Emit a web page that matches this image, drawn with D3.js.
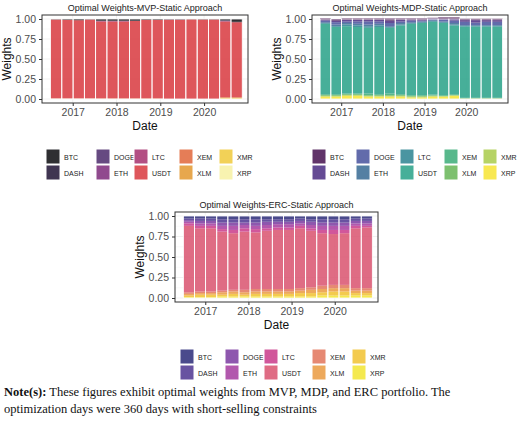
<!DOCTYPE html>
<html><head><meta charset="utf-8">
<script src="https://cdn.jsdelivr.net/npm/d3@7"></script>
<style>body{margin:0;background:#fff}text{font-family:"Liberation Sans",Arial,sans-serif}</style>
</head><body>
<svg id="c" width="520" height="422"></svg>
<script>
const assets = ['BTC','DASH','DOGE','ETH','LTC','USDT','XEM','XLM','XMR','XRP'];
const dates = ['2016-08-16','2016-11-18','2017-02-20','2017-05-25','2017-08-27','2017-11-29','2018-03-03','2018-06-05','2018-09-07','2018-12-10','2019-03-14','2019-06-16','2019-09-18','2019-12-21','2020-03-24','2020-06-26','2020-09-28'];
const yearTicks = ['2017-01-01','2018-01-01','2019-01-01','2020-01-01'];
const yTicks = [0, 0.25, 0.5, 0.75, 1];

const mvp = {
  BTC:  [0.005,0.01,0.015,0.005,0.02,0.02,0.02,0.02,0.01,0.01,0.005,0.005,0.003,0.005,0.005,0.015,0.035],
  DASH: [0,0,0,0,0.005,0.005,0.005,0.005,0,0,0,0,0,0,0,0.005,0.005],
  DOGE: [0,0,0,0,0,0,0,0,0,0,0.003,0.003,0,0,0,0.005,0],
  ETH:  [0,0,0,0,0.005,0.005,0.005,0,0,0,0,0,0,0,0,0.005,0],
  LTC:  [0,0,0,0,0,0,0,0,0,0,0,0,0,0,0,0,0],
  USDT: [0.99,0.985,0.98,0.99,0.965,0.965,0.965,0.97,0.985,0.985,0.992,0.992,0.997,0.995,0.995,0.95,0.94],
  XEM:  [0,0,0,0,0,0,0,0,0,0,0,0,0,0,0,0,0],
  XLM:  [0,0,0,0,0.005,0.005,0.005,0.005,0.005,0.005,0,0,0,0,0,0.01,0.01],
  XMR:  [0,0,0,0,0,0,0,0,0,0,0,0,0,0,0,0.01,0.01],
  XRP:  [0.005,0.005,0.005,0.005,0,0,0,0,0,0,0,0,0,0,0,0,0]
};
const mdp = {
  BTC:  [0.02,0.02,0.02,0.02,0.02,0.02,0.03,0.02,0.02,0.02,0.01,0.02,0.02,0.02,0.02,0.02,0.02],
  DASH: [0.01,0.02,0.02,0.02,0.02,0.02,0.03,0.02,0.01,0.01,0.01,0.01,0.02,0.02,0.03,0.02,0.02],
  DOGE: [0.02,0.03,0.02,0.03,0.04,0.03,0.04,0.02,0.02,0.01,0.01,0.02,0.03,0.04,0.03,0.04,0.04],
  ETH:  [0.01,0.02,0.02,0.02,0.02,0.02,0.01,0.02,0.01,0.01,0.01,0.01,0.02,0.01,0.01,0.01,0.01],
  LTC:  [0.01,0.01,0.02,0.02,0.02,0.02,0.01,0.01,0.01,0.01,0.01,0.01,0.01,0.01,0.01,0.01,0.01],
  USDT: [0.88,0.84,0.84,0.83,0.82,0.84,0.82,0.86,0.89,0.90,0.91,0.90,0.86,0.89,0.89,0.89,0.89],
  XEM:  [0.01,0.01,0.01,0.01,0.02,0.01,0.02,0.01,0.01,0.01,0.01,0.01,0.01,0.005,0.005,0.005,0.005],
  XLM:  [0.01,0.01,0.01,0.01,0.01,0.01,0.01,0.01,0.01,0.01,0.005,0.005,0.005,0.005,0.005,0.005,0.005],
  XMR:  [0.01,0.01,0.01,0.01,0.01,0.01,0.01,0.01,0.01,0.01,0.01,0.005,0.005,0.005,0.005,0.005,0.005],
  XRP:  [0.03,0.03,0.04,0.04,0.03,0.03,0.03,0.03,0.02,0.02,0.03,0.03,0.04,0,0,0,0]
};
const erc = {
  BTC:  [0.03,0.03,0.03,0.04,0.04,0.04,0.04,0.04,0.04,0.04,0.03,0.04,0.04,0.04,0.04,0.03,0.03],
  DASH: [0.02,0.03,0.03,0.04,0.04,0.04,0.04,0.03,0.03,0.03,0.03,0.03,0.04,0.04,0.04,0.03,0.03],
  DOGE: [0.02,0.03,0.03,0.04,0.04,0.03,0.04,0.04,0.03,0.03,0.03,0.04,0.04,0.04,0.04,0.03,0.03],
  ETH:  [0.02,0.03,0.03,0.04,0.05,0.04,0.04,0.04,0.04,0.04,0.03,0.04,0.05,0.05,0.05,0.03,0.03],
  LTC:  [0.03,0.03,0.03,0.03,0.04,0.04,0.04,0.03,0.03,0.03,0.03,0.03,0.04,0.05,0.04,0.03,0.02],
  USDT: [0.81,0.77,0.77,0.72,0.69,0.71,0.69,0.71,0.72,0.72,0.73,0.69,0.64,0.62,0.63,0.73,0.74],
  XEM:  [0.02,0.02,0.02,0.02,0.02,0.03,0.03,0.03,0.03,0.03,0.03,0.03,0.04,0.04,0.04,0.03,0.03],
  XLM:  [0.02,0.02,0.02,0.03,0.03,0.03,0.03,0.03,0.03,0.03,0.03,0.04,0.04,0.04,0.04,0.03,0.03],
  XMR:  [0.02,0.03,0.03,0.02,0.03,0.02,0.03,0.03,0.03,0.03,0.04,0.04,0.04,0.05,0.05,0.03,0.03],
  XRP:  [0.01,0.01,0.01,0.02,0.02,0.02,0.02,0.02,0.02,0.02,0.02,0.02,0.03,0.03,0.03,0.03,0.03]
};
const infernoCols = ['#0b0b0e','#1e1233','#4b2a6b','#7d2a7a','#a6306d','#d8383e','#e0663a','#e3982e','#f0c93a','#f7f1a2'];
const viridisCols = ['#45114f','#4a2b81','#46519c','#376a93','#2a8390','#27a187','#3bab78','#66b556','#a9cb4a','#f7e433'];
const plasmaCols  = ['#2a2a78','#4d3590','#7a3aa0','#a43b9f','#c9398a','#d9526e','#e2745a','#ea9a40','#f1c230','#f2e530'];

const svg = d3.select('#c');
const parse = d3.utcParse('%Y-%m-%d');

function drawPanel(o) {
  const g = svg.append('g').attr('transform', `translate(${o.x},${o.y})`);
  const w = o.w, h = o.h;
  const x = d3.scaleUtc().domain([parse('2016-04-20'), parse('2021-01-01')]).range([0, w]);
  const y = d3.scaleLinear().domain([0, 1]).range([h - 4, 4]);
  const color = d3.scaleOrdinal().domain(assets).range(o.colors);

  g.append('rect').attr('width', w).attr('height', h).attr('fill', '#fff');
  const minor = [0.125, 0.375, 0.625, 0.875];
  g.selectAll('.gm').data(minor).join('line').attr('x1', 0).attr('x2', w)
    .attr('y1', d => y(d)).attr('y2', d => y(d)).attr('stroke', '#f2f2f2').attr('stroke-width', 0.5);
  g.selectAll('.gy').data(yTicks).join('line').attr('x1', 0).attr('x2', w)
    .attr('y1', d => y(d)).attr('y2', d => y(d)).attr('stroke', '#ebebeb').attr('stroke-width', 0.7);
  g.selectAll('.gx').data(yearTicks).join('line').attr('y1', 0).attr('y2', h)
    .attr('x1', d => x(parse(d))).attr('x2', d => x(parse(d))).attr('stroke', '#ebebeb').attr('stroke-width', 0.7);

  const rows = dates.map((d, i) => {
    const r = { date: parse(d) };
    assets.forEach(a => r[a] = o.data[a][i]);
    return r;
  });
  const stack = d3.stack().keys(assets.slice().reverse())(rows);
  const bw = x(d3.utcDay.offset(parse('2017-01-01'), 94)) - x(parse('2017-01-01'));
  g.selectAll('.s').data(stack).join('g').attr('fill', d => color(d.key)).attr('fill-opacity', 0.85)
    .selectAll('rect').data(d => d).join('rect')
    .attr('x', d => x(d.data.date) - bw / 2).attr('width', bw)
    .attr('y', d => y(d[1])).attr('height', d => Math.max(0, y(d[0]) - y(d[1])));
  g.selectAll('.ol').data(rows).join('rect')
    .attr('x', d => x(d.date) - bw / 2).attr('width', bw)
    .attr('y', y(1)).attr('height', y(0) - y(1))
    .attr('fill', 'none').attr('stroke', '#fff').attr('stroke-width', 0.8);

  g.append('rect').attr('width', w).attr('height', h).attr('fill', 'none').attr('stroke', '#333').attr('stroke-width', 1);

  const ya = g.append('g').call(d3.axisLeft(y).tickValues(yTicks).tickFormat(d3.format('.2f')).tickSize(3));
  const xa = g.append('g').attr('transform', `translate(0,${h})`)
    .call(d3.axisBottom(x).tickValues(yearTicks.map(parse)).tickFormat(d3.utcFormat('%Y')).tickSize(3));
  [ya, xa].forEach(a => {
    a.select('.domain').remove();
    a.selectAll('line').attr('stroke', '#333');
    a.selectAll('text').attr('fill', '#4d4d4d').style('font-size', '10.5px');
  });
  g.append('text').attr('x', w / 2).attr('y', -4).attr('text-anchor', 'middle')
    .style('font-size', '9px').attr('fill', '#222').text(o.title);
  g.append('text').attr('x', w / 2).attr('y', h + 27).attr('text-anchor', 'middle')
    .style('font-size', '12px').attr('fill', '#111').text('Date');
  g.append('text').attr('transform', `translate(-31,${h / 2}) rotate(-90)`).attr('text-anchor', 'middle')
    .style('font-size', '12px').attr('fill', '#111').text('Weights');

  const lg = svg.append('g').attr('transform', `translate(${o.lx},${o.ly})`);
  assets.forEach((a, i) => {
    const col = Math.floor(i / 2), row = i % 2;
    const it = lg.append('g').attr('transform', `translate(${o.lcols[col]},${row * 16})`);
    it.append('rect').attr('width', 14).attr('height', 15).attr('fill', color(a)).attr('fill-opacity', 0.85)
      .attr('stroke', '#fff');
    it.append('text').attr('x', 18).attr('y', 11).style('font-size', '7px').attr('fill', '#222').text(a);
  });
}

drawPanel({ x: 42, y: 15, w: 206, h: 88, title: 'Optimal Weights-MVP-Static Approach', data: mvp,
  colors: infernoCols, lx: 46, ly: 149, lcols: [0, 50, 88, 133, 173] });
drawPanel({ x: 312, y: 15, w: 196, h: 88, title: 'Optimal Weights-MDP-Static Approach', data: mdp,
  colors: viridisCols, lx: 312, ly: 149, lcols: [0, 44, 88, 132, 171] });
drawPanel({ x: 175, y: 212, w: 203, h: 90, title: 'Optimal Weights-ERC-Static Approach', data: erc,
  colors: plasmaCols, lx: 180, ly: 349, lcols: [0, 45, 84, 132, 172] });

const serif = '"Liberation Serif","Times New Roman",serif';
const note = svg.append('text').attr('x', 4).attr('y', 396).style('font-family', serif).style('font-size', '12.5px').attr('fill', '#111');
note.append('tspan').attr('font-weight', 'bold').text('Note(s):');
note.append('tspan').text(' These figures exhibit optimal weights from MVP, MDP, and ERC portfolio. The');
svg.append('text').attr('x', 4).attr('y', 413).style('font-family', serif).style('font-size', '12.5px').attr('fill', '#111')
  .text('optimization days were 360 days with short-selling constraints');
</script>
</body></html>
